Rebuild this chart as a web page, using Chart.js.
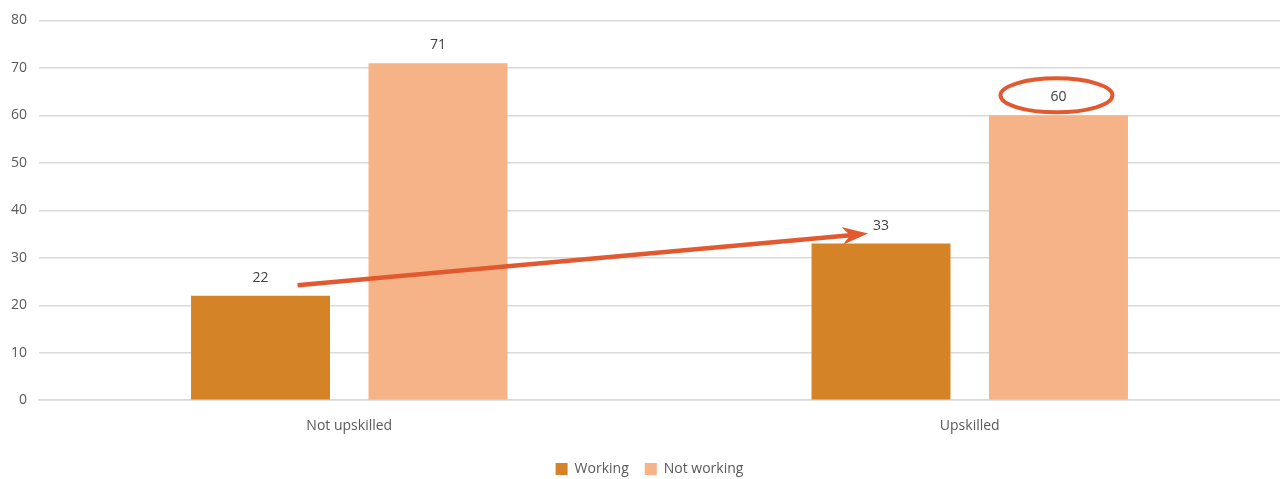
<!DOCTYPE html>
<html>
<head>
<meta charset="utf-8">
<script src="https://cdn.jsdelivr.net/npm/chart.js@4/dist/chart.umd.min.js"></script>
<style>
  html, body { margin: 0; padding: 0; background: #ffffff; }
  #wrap { width: 1280px; height: 479px; }
</style>
</head>
<body>
<div id="wrap"><canvas id="grafico"></canvas></div>
<script>
var categorias = ["Not upskilled", "Upskilled"];
var trabalhando = [22, 33];
var naoTrabalhando = [71, 60];
var ticksY = [0, 10, 20, 30, 40, 50, 60, 70, 80];

var corTrabalhando = "#d58327";
var corNaoTrabalhando = "#f6b387";
var corDestaque = "#e2592f";

// rótulos de valor acima das barras
var pluginRotulos = {
    id: "rotulos",
    afterDatasetsDraw: function (chart) {
        var ctx = chart.ctx;
        ctx.save();
        ctx.font = "14px 'Open Sans', sans-serif";
        ctx.fillStyle = "#404040";
        ctx.textAlign = "center";
        ctx.textBaseline = "bottom";
        chart.data.datasets.forEach(function (ds, i) {
            var meta = chart.getDatasetMeta(i);
            meta.data.forEach(function (barra, j) {
                ctx.fillText(ds.data[j], barra.x, barra.y - 11);
            });
        });
        ctx.restore();
    }
};

// seta e elipse de destaque
var pluginDestaque = {
    id: "destaque",
    afterDraw: function (chart) {
        var ctx = chart.ctx;
        var y = chart.scales.y;
        var b0 = chart.getDatasetMeta(0).data[0];
        var b1 = chart.getDatasetMeta(0).data[1];
        var x0 = b0.x + 37, y0 = y.getPixelForValue(24.2);
        var x1 = b1.x - 13, y1 = y.getPixelForValue(35.1);
        var ang = Math.atan2(y1 - y0, x1 - x0);

        ctx.save();
        ctx.strokeStyle = corDestaque;
        ctx.fillStyle = corDestaque;
        ctx.lineWidth = 4.5;
        ctx.beginPath();
        ctx.moveTo(x0, y0);
        ctx.lineTo(x1 - 12 * Math.cos(ang), y1 - 12 * Math.sin(ang));
        ctx.stroke();
        // ponta da seta
        ctx.beginPath();
        ctx.moveTo(x1, y1);
        ctx.lineTo(x1 - 26 * Math.cos(ang) + 9 * Math.sin(ang), y1 - 26 * Math.sin(ang) - 9 * Math.cos(ang));
        ctx.lineTo(x1 - 18 * Math.cos(ang), y1 - 18 * Math.sin(ang));
        ctx.lineTo(x1 - 26 * Math.cos(ang) - 9 * Math.sin(ang), y1 - 26 * Math.sin(ang) + 9 * Math.cos(ang));
        ctx.closePath();
        ctx.fill();

        // elipse em volta do 60
        var b = chart.getDatasetMeta(1).data[1];
        ctx.lineWidth = 4;
        ctx.beginPath();
        ctx.ellipse(b.x - 2, b.y - 20, 56, 17, 0, 0, Math.PI * 2);
        ctx.stroke();
        ctx.restore();
    }
};

// desloca a legenda um pouco para a direita e para baixo
var pluginLegenda = {
    id: "ajusteLegenda",
    afterLayout: function (chart) {
        var lg = chart.legend;
        lg.left += 10; lg.right += 10;
        lg.top += 3; lg.bottom += 3;
    }
};

new Chart(document.getElementById("grafico").getContext("2d"), {
    type: "bar",
    data: {
        labels: categorias,
        datasets: [{
            label: "Working",
            data: trabalhando,
            backgroundColor: corTrabalhando,
            barPercentage: 0.783,
            categoryPercentage: 0.572
        }, {
            label: "Not working",
            data: naoTrabalhando,
            backgroundColor: corNaoTrabalhando,
            barPercentage: 0.783,
            categoryPercentage: 0.572
        }]
    },
    options: {
        responsive: true,
        maintainAspectRatio: false,
        animation: false,
        layout: { padding: { left: -1, right: 0, top: 9, bottom: -4 } },
        scales: {
            x: {
                grid: { display: false },
                border: { color: "#d9d9d9", width: 1.5 },
                ticks: { color: "#595959", font: { family: "'Open Sans', sans-serif", size: 14 }, padding: 9 }
            },
            y: {
                min: 0,
                max: 80,
                afterBuildTicks: function (eixo) {
                    eixo.ticks = ticksY.map(function (v) { return { value: v }; });
                },
                grid: { color: "#d9d9d9", lineWidth: 1.5, drawTicks: false },
                border: { display: false },
                ticks: { color: "#595959", font: { family: "'Open Sans', sans-serif", size: 14 }, padding: 12 }
            }
        },
        plugins: {
            legend: {
                position: "bottom",
                labels: {
                    color: "#595959",
                    font: { family: "'Open Sans', sans-serif", size: 14 },
                    boxWidth: 12,
                    boxHeight: 12,
                    padding: 16
                }
            },
            tooltip: { enabled: false }
        }
    },
    plugins: [pluginRotulos, pluginDestaque, pluginLegenda]
});
</script>
</body>
</html>
